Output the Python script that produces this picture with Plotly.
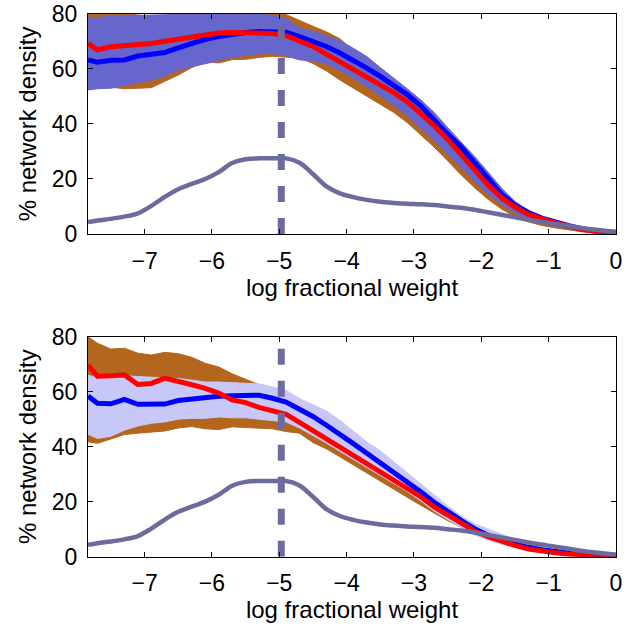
import plotly.graph_objects as go
from plotly.subplots import make_subplots

# x grid (log fractional weight)
log_w = [-7.84, -7.7, -7.5, -7.3, -7.1, -6.9, -6.7, -6.5, -6.3, -6.1,
         -5.9, -5.7, -5.5, -5.3, -5.1, -4.9, -4.7, -4.5, -4.3, -4.1,
         -3.9, -3.7, -3.5, -3.3, -3.1, -2.9, -2.7, -2.5, -2.3, -2.1,
         -1.9, -1.7, -1.5, -1.3, -1.1, -0.9, -0.7, -0.5, -0.3, -0.1, 0]

threshold_w = -4.97

# difference curve (same in both panels)
gap = [4.3, 4.9, 5.5, 6.3, 7.5, 10.2, 13.5, 16.3, 18.2, 20.0,
       22.5, 25.8, 27.2, 27.5, 27.5, 27.5, 25.9, 21.8, 17.3, 14.8,
       13.4, 12.4, 11.7, 11.3, 11.0, 10.8, 10.5, 10.0, 9.5, 8.8,
       7.9, 7.0, 6.1, 5.2, 4.4, 3.6, 2.9, 2.1, 1.5, 1.0, 0.8]

# ---- top panel ----
top_red = [69.3, 67.0, 68.1, 68.4, 68.8, 69.3, 70.1, 70.8, 71.8, 72.6,
           73.1, 73.3, 73.3, 73.2, 72.9, 72.1, 70.3, 68.2, 65.4, 62.6,
           59.9, 57.2, 54.4, 51.4, 48.1, 44.0, 39.4, 34.4, 29.0, 23.3,
           17.8, 13.2, 9.8, 7.0, 5.3, 4.0, 2.8, 1.6, 0.9, 0.4, 0.2]
top_blue = [63.3, 62.5, 63.2, 63.3, 64.7, 65.4, 66.0, 67.7, 69.3, 70.8,
            71.8, 72.7, 73.3, 73.6, 73.6, 73.4, 71.8, 70.1, 68.2, 65.8,
            63.3, 60.3, 57.3, 54.2, 50.7, 46.6, 41.3, 36.3, 31.6, 25.9,
            20.2, 14.5, 10.6, 7.8, 5.8, 4.3, 3.0, 1.9, 1.1, 0.5, 0.3]
top_blue_hi = [78.5, 78.8, 79.2, 79.5, 79.5, 79.6, 79.8, 80.0, 80.0, 80.0,
               80.0, 80.0, 80.0, 79.8, 79.5, 78.3, 75.0, 73.8, 72.0, 70.3,
               67.5, 64.5, 60.5, 56.8, 52.8, 48.8, 44.2, 38.7, 33.6, 28.2,
               22.5, 16.7, 11.8, 8.4, 6.2, 4.5, 3.2, 2.1, 1.2, 0.6, 0.4]
top_blue_lo = [52.4, 52.8, 53.0, 54.0, 55.0, 56.0, 57.5, 59.5, 60.8, 61.8,
               63.0, 64.3, 65.0, 65.5, 65.6, 64.8, 63.3, 63.0, 61.8, 59.5,
               56.6, 53.6, 50.2, 46.8, 43.0, 38.5, 34.0, 29.0, 24.0, 19.0,
               14.5, 10.8, 7.8, 5.3, 3.8, 2.7, 1.8, 1.0, 0.5, 0.2, 0.1]
top_null_hi = [82.0, 81.0, 80.5, 80.3, 79.6, 79.2, 79.5, 80.4, 81.0, 81.0,
               81.0, 81.0, 81.0, 81.0, 80.8, 79.8, 77.5, 75.5, 73.5, 71.0,
               66.8, 63.6, 59.8, 56.0, 52.0, 47.8, 43.0, 37.6, 32.4, 27.0,
               21.5, 16.0, 11.3, 8.0, 5.9, 4.3, 3.0, 1.9, 1.1, 0.5, 0.3]
top_null_lo = [53.0, 53.5, 53.4, 52.8, 53.0, 53.2, 55.5, 57.8, 60.5, 62.6,
               62.2, 63.4, 63.5, 64.2, 64.6, 64.2, 64.0, 62.0, 59.3, 56.0,
               53.0, 50.0, 47.0, 44.2, 40.5, 36.0, 31.6, 26.6, 21.5, 16.8,
               12.6, 9.1, 6.3, 4.4, 3.1, 2.2, 1.4, 0.8, 0.4, 0.1, 0.0]

# ---- bottom panel ----
bot_red = [69.7, 65.6, 65.8, 66.1, 62.6, 63.0, 64.9, 63.5, 62.5, 61.2,
           59.5, 57.0, 56.0, 54.3, 53.0, 51.8, 48.8, 45.8, 42.8, 39.8,
           36.9, 34.0, 31.2, 28.2, 25.2, 21.8, 18.1, 15.0, 12.0, 9.3,
           7.3, 5.5, 4.1, 2.8, 2.0, 1.4, 0.9, 0.5, 0.2, 0.1, 0.0]
bot_blue = [58.4, 55.8, 55.6, 57.2, 55.4, 55.4, 55.5, 56.8, 57.4, 57.9,
            58.3, 58.5, 58.8, 58.7, 57.6, 56.2, 53.6, 51.0, 47.8, 44.6,
            41.1, 37.6, 34.2, 30.8, 27.3, 23.6, 19.8, 16.3, 13.2, 10.2,
            7.8, 6.0, 4.5, 3.4, 2.5, 1.8, 1.2, 0.7, 0.3, 0.1, 0.0]
bot_blue_hi = [66.0, 65.0, 65.5, 65.8, 65.5, 65.3, 65.0, 64.8, 64.2, 63.5,
               63.5, 63.2, 63.0, 62.8, 61.8, 60.5, 57.5, 55.3, 53.0, 49.6,
               45.5, 41.7, 38.5, 34.5, 30.5, 26.3, 22.3, 18.5, 14.8, 12.0,
               10.1, 8.1, 6.3, 4.8, 3.5, 2.3, 1.6, 1.0, 0.5, 0.2, 0.1]
bot_blue_lo = [44.5, 43.0, 43.8, 46.0, 47.5, 48.5, 49.0, 50.0, 50.3, 50.3,
               50.8, 50.5, 50.5, 50.0, 49.5, 49.0, 46.8, 44.2, 41.3, 38.3,
               35.4, 32.5, 29.7, 26.7, 23.7, 20.3, 16.6, 13.5, 10.5, 7.9,
               6.0, 4.5, 3.3, 2.3, 1.6, 1.1, 0.7, 0.4, 0.2, 0.1, 0.0]
bot_null_hi = [80.0, 77.6, 75.5, 75.8, 74.0, 73.3, 74.3, 73.8, 72.5, 70.3,
               69.0, 66.5, 64.5, 62.5, 61.3, 60.0, 57.0, 54.8, 52.5, 49.0,
               45.0, 41.2, 38.0, 34.0, 30.0, 25.8, 21.8, 18.0, 14.3, 11.5,
               9.6, 7.6, 5.8, 4.4, 3.2, 2.1, 1.4, 0.9, 0.4, 0.2, 0.0]
bot_null_lo = [41.8, 41.2, 42.8, 44.4, 44.9, 45.2, 45.7, 46.8, 47.3, 46.5,
               46.2, 47.2, 47.0, 46.8, 46.5, 45.5, 44.9, 41.5, 39.2, 36.3,
               33.3, 30.3, 27.4, 24.5, 21.6, 18.7, 15.8, 13.1, 10.6, 8.6,
               6.8, 5.3, 4.0, 2.8, 1.9, 1.2, 0.7, 0.4, 0.2, 0.1, 0.0]

BROWN = "#b5661e"
GRAYPURPLE = "#6b6b9e"

fig = make_subplots(rows=2, cols=1)

panels = [
    (1, top_null_lo, top_null_hi, top_blue_lo, top_blue_hi, "#6666cc", top_red, top_blue),
    (2, bot_null_lo, bot_null_hi, bot_blue_lo, bot_blue_hi, "#c8c8f6", bot_red, bot_blue),
]

for row, nlo, nhi, blo, bhi, band_col, red, blue in panels:
    # null-model band
    fig.add_trace(go.Scatter(x=log_w, y=nlo, mode="lines",
                             line=dict(color=BROWN, width=1)), row=row, col=1)
    fig.add_trace(go.Scatter(x=log_w, y=nhi, mode="lines", fill="tonexty",
                             fillcolor=BROWN, line=dict(color=BROWN, width=1)),
                  row=row, col=1)
    # sample band
    fig.add_trace(go.Scatter(x=log_w, y=blo, mode="lines",
                             line=dict(color=band_col, width=1)), row=row, col=1)
    fig.add_trace(go.Scatter(x=log_w, y=bhi, mode="lines", fill="tonexty",
                             fillcolor=band_col, line=dict(color=band_col, width=1)),
                  row=row, col=1)
    fig.add_trace(go.Scatter(x=log_w, y=blue, mode="lines",
                             line=dict(color="#0000ff", width=5)), row=row, col=1)
    fig.add_trace(go.Scatter(x=log_w, y=red, mode="lines",
                             line=dict(color="#ff0000", width=5)), row=row, col=1)
    fig.add_trace(go.Scatter(x=log_w, y=gap, mode="lines",
                             line=dict(color=GRAYPURPLE, width=4.5, shape="spline")),
                  row=row, col=1)
    fig.add_trace(go.Scatter(x=[threshold_w, threshold_w], y=[0, 80], mode="lines",
                             line=dict(color=GRAYPURPLE, width=7, dash="16px,16px")),
                  row=row, col=1)

font = dict(family="Liberation Sans, Arial, sans-serif", size=23, color="black")

fig.update_layout(
    width=626, height=630,
    margin=dict(l=0, r=0, t=0, b=0, autoexpand=False),
    paper_bgcolor="white", plot_bgcolor="white",
    showlegend=False,
    font=font,
    xaxis=dict(domain=[0.1406, 0.9840]),
    xaxis2=dict(domain=[0.1406, 0.9840]),
    yaxis=dict(domain=[0.6286, 0.9778]),
    yaxis2=dict(domain=[0.1164, 0.4656]),
)

fig.update_xaxes(range=[-7.84, 0], tickvals=[-7, -6, -5, -4, -3, -2, -1, 0],
                 showgrid=False, zeroline=False, showline=True, linecolor="black",
                 linewidth=1, mirror="ticks", ticks="inside", ticklen=5,
                 tickcolor="black", ticklabelstandoff=6,
                 title=dict(text="log fractional weight", standoff=1, font=dict(size=24)))
fig.update_yaxes(range=[0, 80], tickvals=[0, 20, 40, 60, 80],
                 showgrid=False, zeroline=False, showline=True, linecolor="black",
                 linewidth=1, mirror="ticks", ticks="inside", ticklen=5,
                 tickcolor="black", ticklabelstandoff=5,
                 title=dict(text="% network density", standoff=8, font=dict(size=24)))

# drop the default body margin so the figure sits at the page origin
fig.write_html("out.html", config={"displayModeBar": False},
               post_script="document.body.style.margin='0';")
